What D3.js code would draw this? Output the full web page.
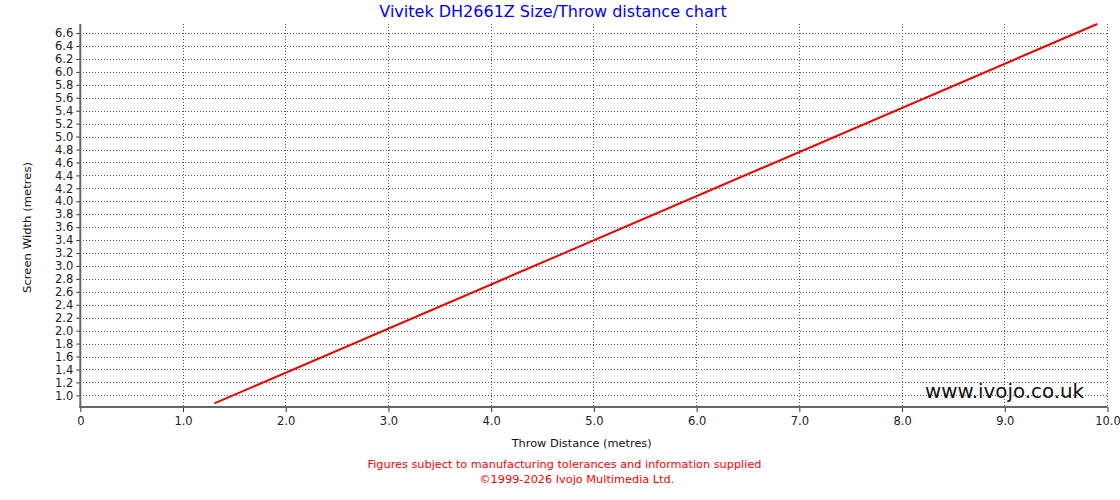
<!DOCTYPE html>
<html><head><meta charset="utf-8">
<script src="https://cdn.jsdelivr.net/npm/d3@7"></script>
<style>body{margin:0;background:#fff}svg{display:block}text{font-family:"DejaVu Sans",Verdana,sans-serif}</style>
</head><body><svg id="c" width="1120" height="500"></svg>
<script>
const throwDistance = [1.305, 9.90];
const screenWidth = [0.876, 6.74];
const xTicks = [0,1,2,3,4,5,6,7,8,9,10];
const yTicks = [1.0,1.2,1.4,1.6,1.8,2.0,2.2,2.4,2.6,2.8,3.0,3.2,3.4,3.6,3.8,4.0,4.2,4.4,4.6,4.8,5.0,5.2,5.4,5.6,5.8,6.0,6.2,6.4,6.6];
const title = "Vivitek DH2661Z Size/Throw distance chart";
const xLabel = "Throw Distance (metres)";
const yLabel = "Screen Width (metres)";
const footer = ["Figures subject to manufacturing tolerances and information supplied","©1999-2026 Ivojo Multimedia Ltd."];
const watermark = "www.ivojo.co.uk";

const svg = d3.select("#c");
const L=80.3, R=1107.5, T=24, B=407;
const x = d3.scaleLinear().domain([0,10]).range([L,R]);
const y = d3.scaleLinear().domain([0.82,6.74]).range([B,T]);

// grid
const g = svg.append("g");
g.selectAll("line.v").data(xTicks.slice(1)).enter().append("line")
 .attr("x1",d=>x(d)).attr("x2",d=>x(d)).attr("y1",T).attr("y2",B)
 .attr("stroke","#555").attr("stroke-width",1).attr("stroke-dasharray","1,2").attr("shape-rendering","crispEdges");
g.selectAll("line.h").data(yTicks).enter().append("line")
 .attr("x1",L).attr("x2",R).attr("y1",d=>Math.round(y(d))+0.5).attr("y2",d=>Math.round(y(d))+0.5)
 .attr("stroke","#555").attr("stroke-width",1).attr("stroke-dasharray","1,2").attr("shape-rendering","crispEdges");

// axes
const xa = svg.append("g").attr("transform",`translate(0,${B})`)
 .call(d3.axisBottom(x).tickValues(xTicks).tickSize(5).tickSizeOuter(0).tickFormat(d=>d===0?"0":d3.format(".1f")(d)));
const ya = svg.append("g").attr("transform",`translate(${L},0)`)
 .call(d3.axisLeft(y).tickValues(yTicks).tickSize(4).tickSizeOuter(0).tickFormat(d3.format(".1f")));
[xa,ya].forEach(a=>{
  a.select(".domain").remove();
  a.selectAll(".tick line").attr("stroke","#333");
  a.selectAll(".tick text").attr("font-size","11.5px").attr("fill","#222").attr("font-family","DejaVu Sans, Verdana, sans-serif");
});
xa.selectAll(".tick text").attr("dy","0.9em");
svg.append("line").attr("x1",L).attr("x2",L).attr("y1",T).attr("y2",B+1).attr("stroke","#666").attr("stroke-width",2);
svg.append("line").attr("x1",L-1).attr("x2",R).attr("y1",B).attr("y2",B).attr("stroke","#666").attr("stroke-width",2);

// line
const pts = throwDistance.map((d,i)=>[d,screenWidth[i]]);
svg.append("path").datum(pts)
 .attr("d",d3.line().x(d=>x(d[0])).y(d=>y(d[1])))
 .attr("fill","none").attr("stroke","#ee0000").attr("stroke-width",2);

// texts
const fit = (sel,len)=>sel.attr("textLength",len).attr("lengthAdjust","spacingAndGlyphs");
svg.append("text").attr("x",553).attr("y",17).attr("text-anchor","middle").attr("font-size","16px").attr("fill","#0000ff").text(title);
fit(svg.append("text").attr("x",581.7).attr("y",447).attr("text-anchor","middle").attr("font-size","11.3px").attr("fill","#111").text(xLabel),140);
fit(svg.append("text").attr("transform","translate(31,227.5) rotate(-90)").attr("text-anchor","middle").attr("font-size","11.3px").attr("fill","#111").text(yLabel),131);
fit(svg.append("text").attr("x",1084).attr("y",398).attr("text-anchor","end").attr("font-size","20px").attr("fill","#111").text(watermark),159);
fit(svg.append("text").attr("x",564.5).attr("y",468).attr("text-anchor","middle").attr("font-size","11.3px").attr("fill","#ff0000").text(footer[0]),394);
fit(svg.append("text").attr("x",576.8).attr("y",483).attr("text-anchor","middle").attr("font-size","11.3px").attr("fill","#ff0000").text(footer[1]),195);
</script></body></html>
